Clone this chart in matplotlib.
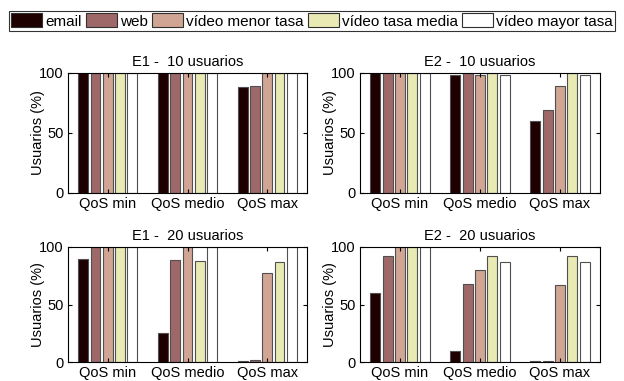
import matplotlib
matplotlib.use("Agg")
from matplotlib import pyplot as plt
from matplotlib.patches import Patch
import numpy as np

plt.rcParams['font.family'] = ['Liberation Sans', 'DejaVu Sans']
plt.rcParams['font.size'] = 10.5

groups = ["QoS min", "QoS medio", "QoS max"]
series = ["email", "web", "vídeo menor tasa", "vídeo tasa media", "vídeo mayor tasa"]
# matlab pink(5)
colors = ["#1e0000", "#9f6868", "#d0a593", "#e9e9b4", "#ffffff"]

titles = ["E1 -  10 usuarios", "E2 -  10 usuarios", "E1 -  20 usuarios", "E2 -  20 usuarios"]

# rows = groups, columns = series
e1_10 = [[100, 100, 100, 100, 100],
         [100, 100, 100, 100, 100],
         [88, 89, 100, 100, 100]]
e2_10 = [[100, 100, 100, 100, 100],
         [98, 100, 98, 100, 98],
         [60, 69, 89, 100, 98]]
e1_20 = [[90, 100, 100, 100, 100],
         [25, 89, 100, 88, 100],
         [1, 2, 77, 87, 100]]
e2_20 = [[60, 92, 100, 100, 100],
         [10, 68, 80, 92, 87],
         [1, 1, 67, 92, 87]]
data = [e1_10, e2_10, e1_20, e2_20]

W, H = 624, 381
fig = plt.figure(figsize=(W / 100, H / 100), dpi=100)

# axes boxes in pixels: left, right, top, bottom
boxes = [(68, 307, 73, 193), (360, 600, 73, 193),
         (68, 307, 247, 362), (360, 600, 247, 362)]

n = len(series)
gw = min(0.8, n / (n + 1.5))
x = np.arange(1, len(groups) + 1)

for k in range(4):
    l, r, t, b = boxes[k]
    ax = fig.add_axes([l / W, 1 - b / H, (r - l) / W, (b - t) / H])
    vals = np.array(data[k])
    for i in range(n):
        off = -gw / 2 + (2 * i + 1) * gw / (2 * n)
        ax.bar(x + off, vals[:, i], width=0.8 * gw / n, color=colors[i],
               edgecolor="#505050", linewidth=0.8)
    ax.set_xlim(0.5, 3.5)
    ax.set_ylim(0, 100)
    ax.set_yticks([0, 50, 100])
    ax.set_xticks(x)
    ax.set_xticklabels(groups)
    ax.tick_params(direction="in", length=3, top=True, right=True, labelsize=10.5, pad=3)
    ax.set_ylabel("Usuarios (%)", labelpad=-4)
    ax.set_title(titles[k], fontsize=10.5, pad=5)
    for s in ax.spines.values():
        s.set_linewidth(0.8)

handles = [Patch(facecolor=c, edgecolor="#303030", linewidth=0.8) for c in colors]
leg = fig.legend(handles, series, loc="center", bbox_to_anchor=(0.5, 1 - 21 / H),
                 ncol=5, frameon=True, fancybox=False, edgecolor="black",
                 handlelength=2.0, handleheight=1.0, handletextpad=0.2,
                 columnspacing=0.3, borderpad=0.15, borderaxespad=0, fontsize=11)
leg.get_frame().set_linewidth(0.8)

fig.savefig("out.png", dpi=100)
